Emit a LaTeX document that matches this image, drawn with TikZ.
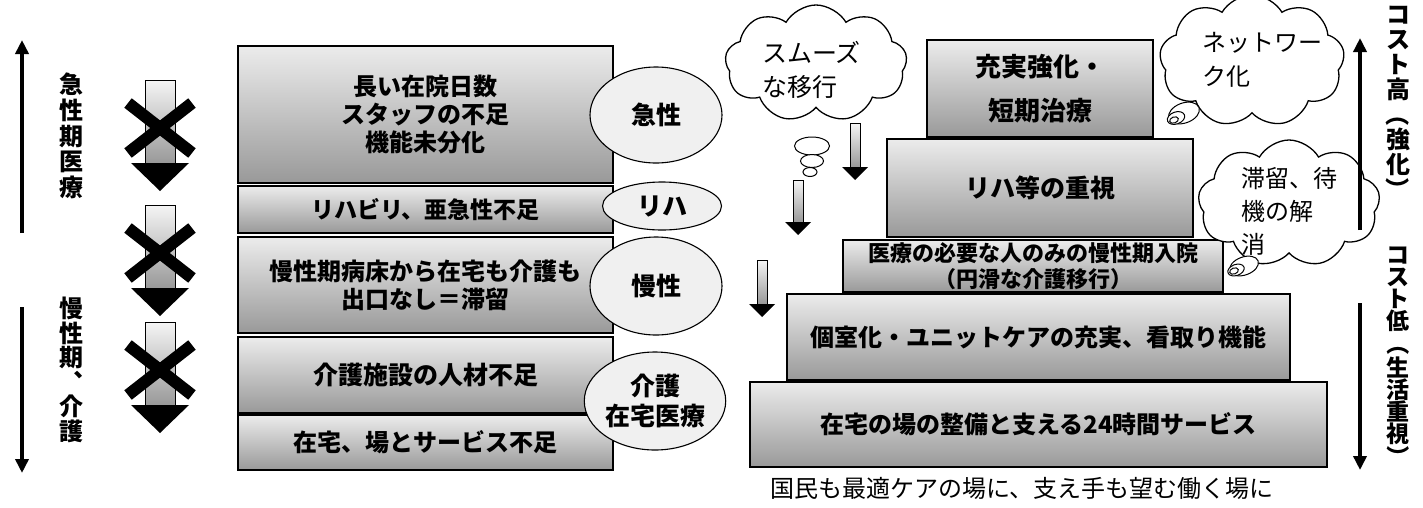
\documentclass[tikz,border=0pt]{standalone}
\usepackage{fontspec}
\usepackage{graphicx}
\setmainfont{Noto Sans CJK JP}
\newfontfamily\jp{Noto Sans CJK JP}
\usetikzlibrary{shapes.symbols,shapes.geometric,arrows.meta}
\newcommand\vop{\rotatebox[origin=c]{-90}{（}}
\newcommand\vcl{\rotatebox[origin=c]{-90}{）}}
\tikzset{
 boxst/.style={draw=black,line width=1.3pt,top color=gray!15,bottom color=gray!80,inner sep=0pt,align=center,font=\jp\bfseries\fontsize{24}{28}\selectfont},
 ellst/.style={ellipse,draw=black,line width=1.1pt,fill=gray!12,inner sep=0pt,align=center,font=\jp\bfseries\fontsize{25}{30}\selectfont},
 cloudst/.style={cloud,draw=black,line width=1.3pt,fill=white,cloud puffs=9,cloud puff arc=120,inner sep=0pt},
 cloudtxt/.style={align=left,anchor=west,inner sep=0pt,font=\jp\fontsize{25}{34}\selectfont},
 vtxt/.style={align=center,inner sep=0pt,font=\jp\bfseries\fontsize{24}{25.6}\selectfont},
 bigarrow/.style={line width=3.5pt,-{Triangle[length=14pt,width=13pt]}},
 tailst/.style={draw=black,line width=1pt,fill=white},
 capst/.style={inner sep=0pt,font=\jp\fontsize{24}{28}\selectfont}
}
\newcommand\crossarrow[2]{%
\begin{scope}[shift={(#1,#2)}]
\path[top color=gray!8,bottom color=gray!80,draw=black,line width=0.8pt] (-15,0) rectangle (15,83);
\fill (-29,83) -- (29,83) -- (0,111) -- cycle;
\draw[line width=12pt] (-32,23) -- (32,73) (32,23) -- (-32,73);
\end{scope}}
\newcommand\smallarrow[3]{%
\begin{scope}[shift={(#1,#2)}]
\path[top color=gray!8,bottom color=gray!80,draw=black,line width=0.6pt] (-5,0) rectangle (5,#3-13);
\fill (-13,#3-13) -- (13,#3-13) -- (0,#3) -- cycle;
\end{scope}}
\begin{document}
\begin{tikzpicture}[x=1pt,y=-1pt]
\useasboundingbox (0,0) rectangle (1423,507);
\fill[white] (0,0) rectangle (1423,507);

% left axis arrows
\coordinate (la1a) at (22,233); \coordinate (la1b) at (22,40);
\coordinate (la2a) at (22,307); \coordinate (la2b) at (22,473);
\draw[bigarrow] (la1a) -- (la1b);
\draw[bigarrow] (la2a) -- (la2b);
\node[vtxt] (vt1) at (71,136) {急\\性\\期\\医\\療};
\node[vtxt,font=\jp\bfseries\fontsize{24}{24.5}\selectfont] (vt2) at (71,370) {慢\\性\\期\\︑\\介\\護};

% crossed arrows
\crossarrow{160}{80}
\crossarrow{160}{205}
\crossarrow{160}{322}

% left boxes
\node[boxst,minimum width=375,minimum height=137] (b1) at (425.5,114.5) {長い在院日数\\スタッフの不足\\機能未分化};
\node[boxst,minimum width=375,minimum height=47,font=\jp\bfseries\fontsize{23}{28}\selectfont] (b2) at (425.5,209.5) {リハビリ、亜急性不足};
\node[boxst,minimum width=375,minimum height=96] (b3) at (425.5,285) {慢性期病床から在宅も介護も\\出口なし＝滞留};
\node[boxst,minimum width=375,minimum height=76,font=\jp\bfseries\fontsize{25}{28}\selectfont] (b4) at (425.5,375) {介護施設の人材不足};
\node[boxst,minimum width=375,minimum height=55] (b5) at (425.5,442.5) {在宅、場とサービス不足};

% ellipses
\node[ellst,minimum width=132,minimum height=96] (e1) at (656,115) {急性};
\node[ellst,minimum width=119,minimum height=48] (e2) at (662,206) {リハ};
\node[ellst,minimum width=132,minimum height=98] (e3) at (656,286) {慢性};
\node[ellst,minimum width=134,minimum height=98] (e4) at (655,401) {介護\\在宅医療};

% right pyramid
\node[boxst,minimum width=226,minimum height=97,font=\jp\bfseries\fontsize{26}{44}\selectfont] (pa) at (1040,88.5) {充実強化・\\短期治療};
\node[boxst,minimum width=306,minimum height=98,font=\jp\bfseries\fontsize{25}{28}\selectfont] (pb) at (1040,188) {リハ等の重視};
\node[boxst,minimum width=380,minimum height=52,font=\jp\bfseries\fontsize{22}{26}\selectfont] (pc) at (1033,266) {医療の必要な人のみの慢性期入院\\（円滑な介護移行）};
\node[boxst,minimum width=503,minimum height=86] (pd) at (1038.5,337) {個室化・ユニットケアの充実、看取り機能};
\node[boxst,minimum width=577,minimum height=85] (pe) at (1038.5,424.5) {在宅の場の整備と支える24時間サービス};
\node[capst] (cap) at (1022,488) {国民も最適ケアの場に、支え手も望む働く場に};

% small arrows
\smallarrow{855}{123}{57}
\smallarrow{798}{180}{55}
\smallarrow{762}{260}{57}

% clouds
\node[cloudst,minimum width=182,minimum height=117] (c1) at (816,63.5) {};
\node[cloudtxt] (c1t) at (762,70) {スムーズ\\な移行};
\node[tailst,ellipse,minimum width=35,minimum height=18,inner sep=0pt] (c1a) at (812,146) {};
\node[tailst,ellipse,minimum width=23,minimum height=13,inner sep=0pt] (c1b) at (812,161) {};
\node[tailst,ellipse,minimum width=14,minimum height=9,inner sep=0pt] (c1c) at (810,172) {};

\node[cloudst,minimum width=185,minimum height=132] (c2) at (1252,61) {};
\node[cloudtxt,font=\jp\fontsize{24}{34}\selectfont] (c2t) at (1202,60) {ネットワー\\ク化};
\node[tailst,ellipse,minimum width=32,minimum height=20,inner sep=0pt,rotate=20] (c2a) at (1184,113) {};
\node[tailst,ellipse,minimum width=18,minimum height=12,inner sep=0pt,rotate=20] (c2b) at (1176,118) {};
\node[tailst,ellipse,minimum width=9,minimum height=6,inner sep=0pt,rotate=20] (c2c) at (1174,120) {};

\node[cloudst,minimum width=182,minimum height=127] (c3) at (1289,203.5) {};
\node[cloudtxt,font=\jp\fontsize{24}{33}\selectfont] (c3t) at (1241,211) {滞留、待\\機の解\\消};
\node[tailst,ellipse,minimum width=30,minimum height=18,inner sep=0pt,rotate=20] (c3a) at (1244,266) {};
\node[tailst,ellipse,minimum width=17,minimum height=11,inner sep=0pt,rotate=20] (c3b) at (1236,270) {};
\node[tailst,ellipse,minimum width=9,minimum height=6,inner sep=0pt,rotate=20] (c3c) at (1234,271) {};

% right axis
\coordinate (ra1a) at (1360,230); \coordinate (ra1b) at (1360,38);
\coordinate (ra2a) at (1360,303); \coordinate (ra2b) at (1360,470);
\draw[bigarrow] (ra1a) -- (ra1b);
\draw[bigarrow] (ra2a) -- (ra2b);
\node[vtxt,font=\jp\bfseries\fontsize{24}{25}\selectfont] (vt3) at (1398,104) {コ\\ス\\ト\\高\\\vop\\強\\化\\\vcl};
\node[vtxt,font=\jp\bfseries\fontsize{23}{22}\selectfont] (vt4) at (1398,358) {コ\\ス\\ト\\低\\\vop\\生\\活\\重\\視\\\vcl};
\end{tikzpicture}
\end{document}
